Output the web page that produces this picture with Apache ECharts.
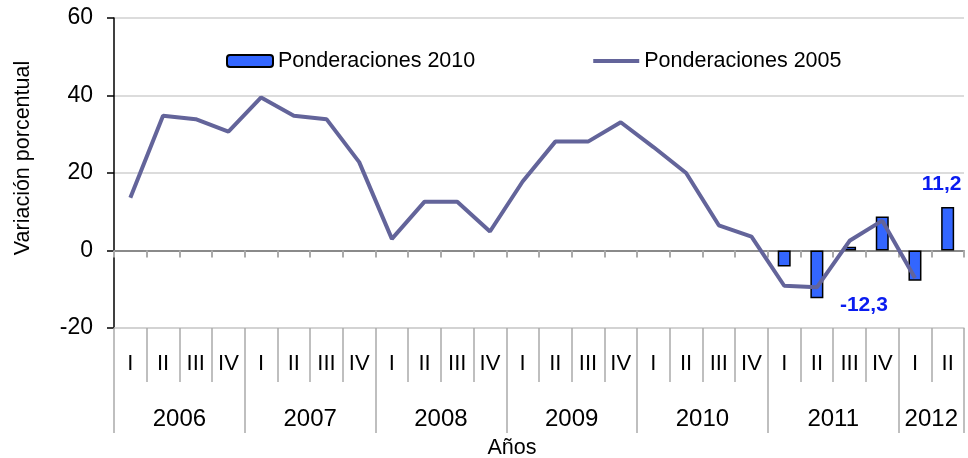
<!DOCTYPE html>
<html>
<head>
<meta charset="utf-8">
<script src="https://cdn.jsdelivr.net/npm/echarts@6/dist/echarts.min.js"></script>
<style>
html, body { margin: 0; padding: 0; background: #fff; }
#chart { width: 968px; height: 458px; }
</style>
</head>
<body>
<div id="chart"></div>
<script>
var trimestres = ['I', 'II', 'III', 'IV', 'I', 'II', 'III', 'IV', 'I', 'II', 'III', 'IV',
	'I', 'II', 'III', 'IV', 'I', 'II', 'III', 'IV', 'I', 'II', 'III', 'IV', 'I', 'II'];
var anios = ['2006', '2007', '2008', '2009', '2010', '2011', '2012'];
var trimPorAnio = [4, 4, 4, 4, 4, 4, 2];
// Ponderaciones 2005 (linea)
var pond2005 = [13.6, 34.8, 33.9, 30.7, 39.5, 34.8, 33.9, 22.8, 3.0, 12.6, 12.6, 4.9,
	17.8, 28.1, 28.1, 33.1, 26.7, 20.0, 6.5, 3.6, -9.1, -9.5, 2.5, 7.7, -7.1, null];
// Ponderaciones 2010 (barras)
var pond2010 = [null, null, null, null, null, null, null, null, null, null, null, null,
	null, null, null, null, null, null, null, null, -4.1, -12.3, 1.0, 8.8, -7.8, 11.2];
var yTicks = [-20, 0, 20, 40, 60];

var fuente = '"Liberation Sans", Arial, sans-serif';

// posiciones de los años sobre un eje de 27 puntos (bordes de trimestre)
var bordes = [0], centros = {}, ranuras = [];
var acum = 0;
for(var a = 0; a < anios.length; a++) {
	centros[acum + trimPorAnio[a] / 2] = anios[a];
	acum += trimPorAnio[a];
	bordes.push(acum);
}
for(var k = 0; k <= trimestres.length; k++) {
	ranuras.push(centros[k] !== undefined ? centros[k] : '');
}

// etiquetas de barras: el minimo y el ultimo dato
var etiquetas = {
	21: { position: 'bottom', offset: [47, -8] },
	25: { position: 'top', offset: [-6, -7] }
};
var barData = pond2010.map(function(v, i) {
	if(etiquetas[i]) {
		return {
			value: v,
			label: {
				show: true,
				position: etiquetas[i].position,
				offset: etiquetas[i].offset,
				color: '#0a1cf0',
				fontWeight: 'bold',
				fontSize: 21,
				fontFamily: fuente,
				formatter: function(p) {
					return p.value.toFixed(1).replace('.', ',');
				}
			}
		};
	}
	return v;
});

var chart = echarts.init(document.getElementById('chart'));
chart.setOption({
	animation: false,
	textStyle: { fontFamily: fuente },
	grid: { left: 114, right: 4, top: 18, bottom: 130, outerBoundsMode: 'none', containLabel: false },
	legend: {
		left: 221,
		top: 45,
		itemWidth: 46,
		itemHeight: 12,
		itemGap: 116,
		textStyle: { fontSize: 21.5, color: '#000', fontFamily: fuente },
		data: [
			{ name: 'Ponderaciones 2010' },
			{ name: 'Ponderaciones 2005', itemStyle: { opacity: 0 }, lineStyle: { width: 4, color: '#63649a' } }
		]
	},
	xAxis: [{
		type: 'category',
		data: trimestres,
		axisLine: { onZero: true, lineStyle: { color: '#8a8a8a', width: 2 } },
		axisTick: { show: true, length: 7, lineStyle: { color: '#aaa', width: 2 } },
		axisLabel: { show: false },
		splitLine: { show: false }
	}, {
		type: 'category',
		data: trimestres,
		position: 'bottom',
		axisLine: { onZero: false, lineStyle: { color: '#d0d0d0', width: 1.5 } },
		axisTick: { show: true, length: 54, lineStyle: { color: '#aaa', width: 1.5 } },
		axisLabel: { interval: 0, margin: 25, fontSize: 22, color: '#000', fontFamily: fuente }
	}, {
		type: 'category',
		data: ranuras,
		boundaryGap: false,
		position: 'bottom',
		name: 'Años',
		nameLocation: 'middle',
		nameGap: 109,
		nameTextStyle: { fontSize: 21.5, color: '#000', fontFamily: fuente, padding: [0, 54, 0, 0] },
		axisLine: { show: false, onZero: false },
		axisTick: {
			show: true,
			length: 105,
			interval: function(index) { return bordes.indexOf(index) >= 0; },
			lineStyle: { color: '#aaa', width: 1.5 }
		},
		axisLabel: { interval: 0, margin: 79, fontSize: 24, color: '#000', fontFamily: fuente }
	}],
	yAxis: {
		type: 'value',
		min: yTicks[0],
		max: yTicks[yTicks.length - 1],
		interval: 20,
		name: 'Variación porcentual',
		nameLocation: 'middle',
		nameGap: 80,
		nameTextStyle: { fontSize: 21.5, color: '#000', fontFamily: fuente, padding: [0, 0, 0, 30] },
		axisLine: { show: true, lineStyle: { color: '#000', width: 1.5 } },
		axisTick: { show: true, length: 7, lineStyle: { color: '#000', width: 1.5 } },
		axisLabel: { margin: 21, fontSize: 23, color: '#000', fontFamily: fuente },
		splitLine: { lineStyle: { color: '#d0d0d0', width: 1.5 } }
	},
	series: [{
		name: 'Ponderaciones 2010',
		type: 'bar',
		xAxisIndex: 0,
		barWidth: 13,
		itemStyle: { color: '#3366ff', borderColor: '#000', borderWidth: 1.5 },
		data: barData
	}, {
		name: 'Ponderaciones 2005',
		type: 'line',
		xAxisIndex: 0,
		symbol: 'none',
		lineStyle: { color: '#63649a', width: 4 },
		itemStyle: { color: '#63649a' },
		data: pond2005
	}]
});
</script>
</body>
</html>
